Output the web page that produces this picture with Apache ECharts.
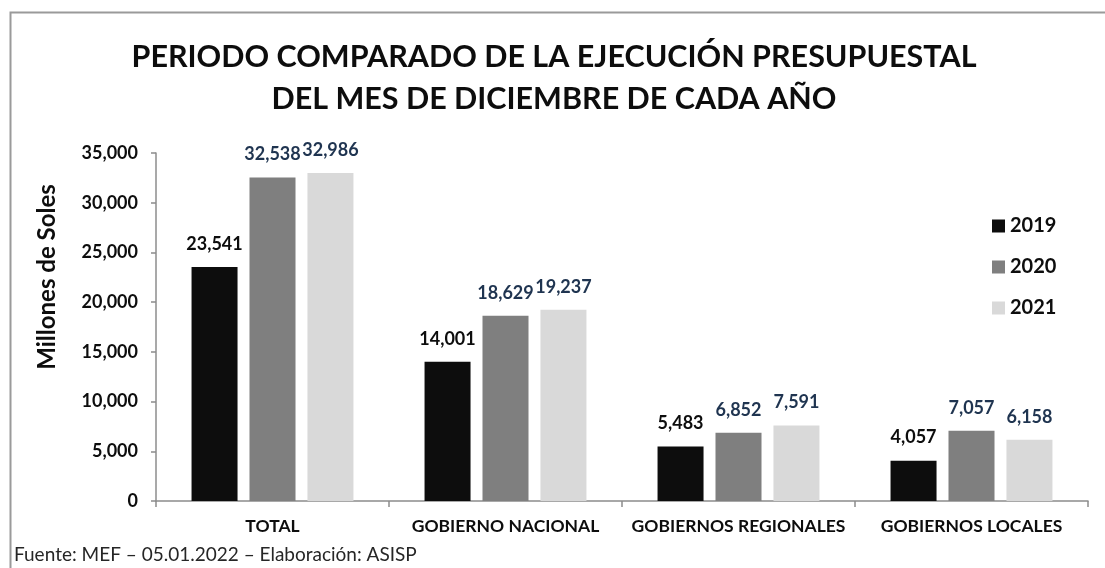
<!DOCTYPE html>
<html>
<head>
<meta charset="utf-8">
<script src="https://cdn.jsdelivr.net/npm/echarts@6/dist/echarts.min.js"></script>
<style>
  html, body { margin: 0; padding: 0; background: #fff; }
  #chart { width: 1105px; height: 568px; }
</style>
</head>
<body>
<div id="chart"></div>
<script>
// categorias y valores (millones de soles)
var categories = ["TOTAL", "GOBIERNO NACIONAL", "GOBIERNOS REGIONALES", "GOBIERNOS LOCALES"];
var years = ["2019", "2020", "2021"];
var data2019 = [23541, 14001, 5483, 4057];
var data2020 = [32538, 18629, 6852, 7057];
var data2021 = [32986, 19237, 7591, 6158];
var yTicks = [0, 5000, 10000, 15000, 20000, 25000, 30000, 35000];

var FONT = "Lato";
var colors = ["#0d0d0d", "#7f7f7f", "#d9d9d9"];
var labelColors = ["#0d0d0d", "#1f3450", "#1f3450"];

var fmt = function (v) {
  return String(v).replace(/\B(?=(\d{3})+(?!\d))/g, ",");
};

var chart = echarts.init(document.getElementById("chart"));

function makeSeries(name, values, i) {
  return {
    name: name,
    type: "bar",
    data: values,
    barWidth: 46,
    barGap: "26%",
    itemStyle: { color: colors[i] },
    label: {
      show: true,
      position: "top",
      distance: 14,
      fontFamily: FONT,
      fontWeight: "bold",
      fontSize: 18,
      color: labelColors[i],
      formatter: function (p) { return fmt(p.value); }
    }
  };
}

var option = {
  animation: false,
  textStyle: { fontFamily: FONT },
  legend: {
    orient: "vertical",
    left: 987,
    top: 211,
    itemWidth: 13,
    itemHeight: 13,
    itemGap: 21,
    icon: "rect",
    data: years,
    textStyle: { fontFamily: FONT, fontWeight: "bold", fontSize: 20, color: "#0d0d0d" }
  },
  grid: { left: 156, right: 17, top: 153, bottom: 67 },
  xAxis: {
    type: "category",
    data: categories,
    axisLine: { lineStyle: { color: "#8c8c8c", width: 1.5 } },
    axisTick: { show: true, length: 6, lineStyle: { color: "#8c8c8c", width: 1.5 } },
    axisLabel: {
      interval: 0,
      margin: 16,
      fontFamily: FONT,
      fontWeight: "bold",
      fontSize: 17.5,
      color: "#0d0d0d"
    }
  },
  yAxis: {
    type: "value",
    min: yTicks[0],
    max: yTicks[yTicks.length - 1],
    interval: yTicks[1] - yTicks[0],
    splitLine: { show: false },
    axisLine: { show: true, lineStyle: { color: "#8c8c8c", width: 1.5 } },
    axisTick: { show: true, length: 5, lineStyle: { color: "#8c8c8c", width: 1.5 } },
    axisLabel: {
      margin: 18,
      fontFamily: FONT,
      fontWeight: "bold",
      fontSize: 18,
      color: "#0d0d0d",
      formatter: function (v) { return fmt(v); }
    }
  },
  graphic: [
    {
      type: "rect",
      left: 8, top: 10,
      shape: { width: 1110, height: 570 },
      style: { fill: "none", stroke: "#9a9a9a", lineWidth: 2 },
      silent: true
    },
    {
      type: "text",
      x: 554, y: 57,
      style: {
        text: "PERIODO COMPARADO DE LA EJECUCIÓN PRESUPUESTAL",
        fontFamily: FONT, fontWeight: "bold", fontSize: 30.5, fill: "#0d0d0d",
        textAlign: "center", textVerticalAlign: "middle"
      }
    },
    {
      type: "text",
      x: 554, y: 99,
      style: {
        text: "DEL MES DE DICIEMBRE DE CADA AÑO",
        fontFamily: FONT, fontWeight: "bold", fontSize: 30.5, fill: "#0d0d0d",
        textAlign: "center", textVerticalAlign: "middle"
      }
    },
    {
      type: "text",
      x: 47, y: 277,
      rotation: Math.PI / 2,
      style: {
        text: "Millones de Soles",
        fontFamily: FONT,
        fontWeight: "bold",
        fontSize: 24,
        fill: "#0d0d0d",
        textAlign: "center",
        textVerticalAlign: "middle"
      }
    },
    {
      type: "text",
      x: 14, y: 555,
      style: {
        text: "Fuente: MEF – 05.01.2022 – Elaboración: ASISP",
        fontFamily: FONT,
        fontSize: 19,
        fill: "#262626",
        textVerticalAlign: "middle"
      }
    }
  ],
  series: [
    makeSeries(years[0], data2019, 0),
    makeSeries(years[1], data2020, 1),
    makeSeries(years[2], data2021, 2)
  ]
};

chart.setOption(option);
</script>
</body>
</html>
